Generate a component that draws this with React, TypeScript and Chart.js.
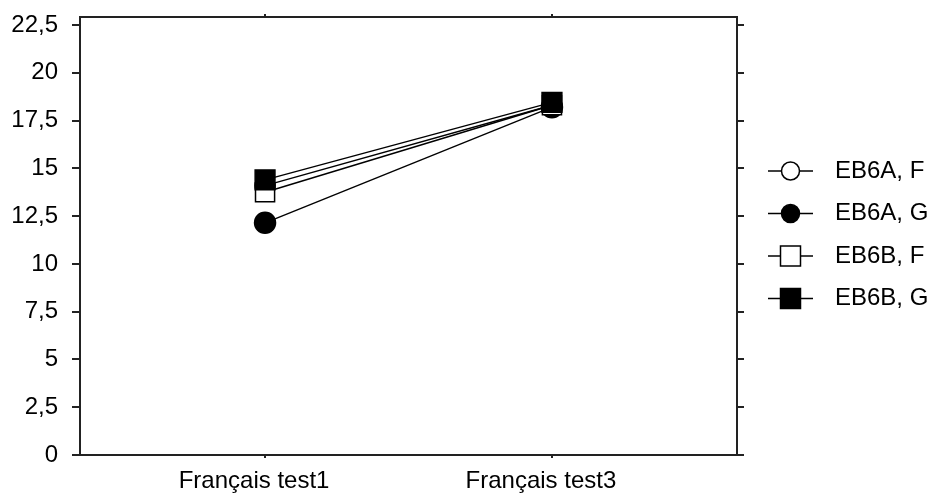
import React, { useEffect, useRef } from "react";
import { Chart, registerables } from "chart.js";

Chart.register(...registerables);

const categories = ["Français test1", "Français test3"];
const seriesLabels = ["EB6A, F", "EB6A, G", "EB6B, F", "EB6B, G"];
const eb6aF = [14.1, 18.3];
const eb6aG = [12.15, 18.2];
const eb6bF = [13.75, 18.3];
const eb6bG = [14.4, 18.45];
const yTicks = [0, 2.5, 5, 7.5, 10, 12.5, 15, 17.5, 20, 22.5];

const FONT = "'Liberation Sans', Arial, sans-serif";
const FONT_SIZE = 24;

const fmt = (v: number) => String(v).replace(".", ",");

type Style = { shape: "circle" | "rect"; fill: string; radius: number; order: number };
const styles: Style[] = [
  { shape: "circle", fill: "#ffffff", radius: 10, order: 3 },
  { shape: "circle", fill: "#000000", radius: 10.5, order: 2 },
  { shape: "rect", fill: "#ffffff", radius: 13.5, order: 1 },
  { shape: "rect", fill: "#000000", radius: 14, order: 0 },
];

const legendPlugin = {
  id: "customLegend",
  afterDraw(chart: any) {
    const ctx = chart.ctx as CanvasRenderingContext2D;
    const area = chart.chartArea;
    const x0 = area.right + 31;
    const lineLen = 45;
    const cx = x0 + lineLen / 2;
    const textX = x0 + 67;
    ctx.save();
    seriesLabels.forEach((label, i) => {
      const y = 171 + i * 42.5;
      const st = styles[i];
      ctx.strokeStyle = "#000";
      ctx.lineWidth = 1.5;
      ctx.beginPath();
      ctx.moveTo(x0, y);
      ctx.lineTo(x0 + lineLen, y);
      ctx.stroke();
      ctx.fillStyle = st.fill;
      ctx.beginPath();
      if (st.shape === "circle") {
        ctx.arc(cx, y, 9, 0, Math.PI * 2);
      } else {
        ctx.rect(cx - 10, y - 10, 20, 20);
      }
      ctx.fill();
      ctx.lineWidth = 1.5;
      ctx.stroke();
      ctx.fillStyle = "#000";
      ctx.font = `${FONT_SIZE}px ${FONT}`;
      ctx.textBaseline = "middle";
      ctx.textAlign = "left";
      ctx.fillText(label, textX, y);
    });
    ctx.restore();
  },
};

export default function App() {
  const ref = useRef<HTMLCanvasElement | null>(null);

  useEffect(() => {
    if (!ref.current) return;
    const series = [eb6aF, eb6aG, eb6bF, eb6bG];
    const datasets = series.map((vals, i) => ({
      label: seriesLabels[i],
      data: vals.map((v, j) => ({ x: j, y: v })),
      borderColor: "#000",
      borderWidth: 1.4,
      pointStyle: styles[i].shape,
      pointRadius: styles[i].radius,
      pointHoverRadius: styles[i].radius,
      pointBackgroundColor: styles[i].fill,
      pointBorderColor: "#000",
      pointBorderWidth: 1.5,
      order: styles[i].order,
      tension: 0,
      clip: false as any,
    }));

    const setYTicks = (axis: any) => {
      axis.ticks = yTicks.map((v) => ({ value: v }));
    };
    const setXTicks = (axis: any) => {
      axis.ticks = categories.map((_, i) => ({ value: i }));
    };
    const border = { display: true, color: "#222", width: 2 };

    const chart = new Chart(ref.current, {
      type: "line",
      data: { datasets },
      plugins: [legendPlugin],
      options: {
        animation: false,
        responsive: false,
        maintainAspectRatio: false,
        layout: { padding: { left: 0, right: 185, top: 0, bottom: 0 } },
        plugins: { legend: { display: false }, tooltip: { enabled: false } },
        scales: {
          x: {
            type: "linear",
            position: "bottom",
            min: -0.645,
            max: 1.645,
            afterBuildTicks: setXTicks,
            afterFit: (axis: any) => {
              axis.height = 41;
              axis.paddingLeft = 0;
              axis.paddingRight = 0;
            },
            grid: { drawOnChartArea: false, drawTicks: true, tickLength: 3, color: "#222", lineWidth: 2 },
            border,
            ticks: {
              callback: (v: any) => categories[Number(v)] ?? "",
              font: { family: FONT, size: FONT_SIZE },
              color: "#000",
              padding: 9,
              labelOffset: -11,
              maxRotation: 0,
              autoSkip: false,
            },
          },
          x2: {
            type: "linear",
            position: "top",
            min: -0.645,
            max: 1.645,
            afterBuildTicks: setXTicks,
            afterFit: (axis: any) => {
              axis.height = 17;
              axis.paddingLeft = 0;
              axis.paddingRight = 0;
            },
            grid: { drawOnChartArea: false, drawTicks: true, tickLength: 3, color: "#222", lineWidth: 2 },
            border,
            ticks: { display: false },
          },
          y: {
            type: "linear",
            position: "left",
            min: 0,
            max: 22.92,
            afterBuildTicks: setYTicks,
            afterFit: (axis: any) => {
              axis.width = 80;
              axis.paddingTop = 0;
              axis.paddingBottom = 0;
            },
            grid: { drawOnChartArea: false, drawTicks: true, tickLength: 8, color: "#222", lineWidth: 2 },
            border,
            ticks: {
              callback: (v: any) => fmt(Number(v)),
              font: { family: FONT, size: FONT_SIZE },
              color: "#000",
              padding: 14,
              autoSkip: false,
            },
          },
          y2: {
            type: "linear",
            position: "right",
            min: 0,
            max: 22.92,
            afterBuildTicks: setYTicks,
            afterFit: (axis: any) => {
              axis.width = 8;
              axis.paddingTop = 0;
              axis.paddingBottom = 0;
            },
            grid: { drawOnChartArea: false, drawTicks: true, tickLength: 7, color: "#222", lineWidth: 2 },
            border,
            ticks: { display: false },
          },
        },
      },
    } as any);
    return () => chart.destroy();
  }, []);

  return (
    <div style={{ position: "fixed", left: 0, top: 0, width: 930, height: 496, background: "#fff" }}>
      <canvas ref={ref} width={930} height={496} style={{ display: "block" }} />
    </div>
  );
}
